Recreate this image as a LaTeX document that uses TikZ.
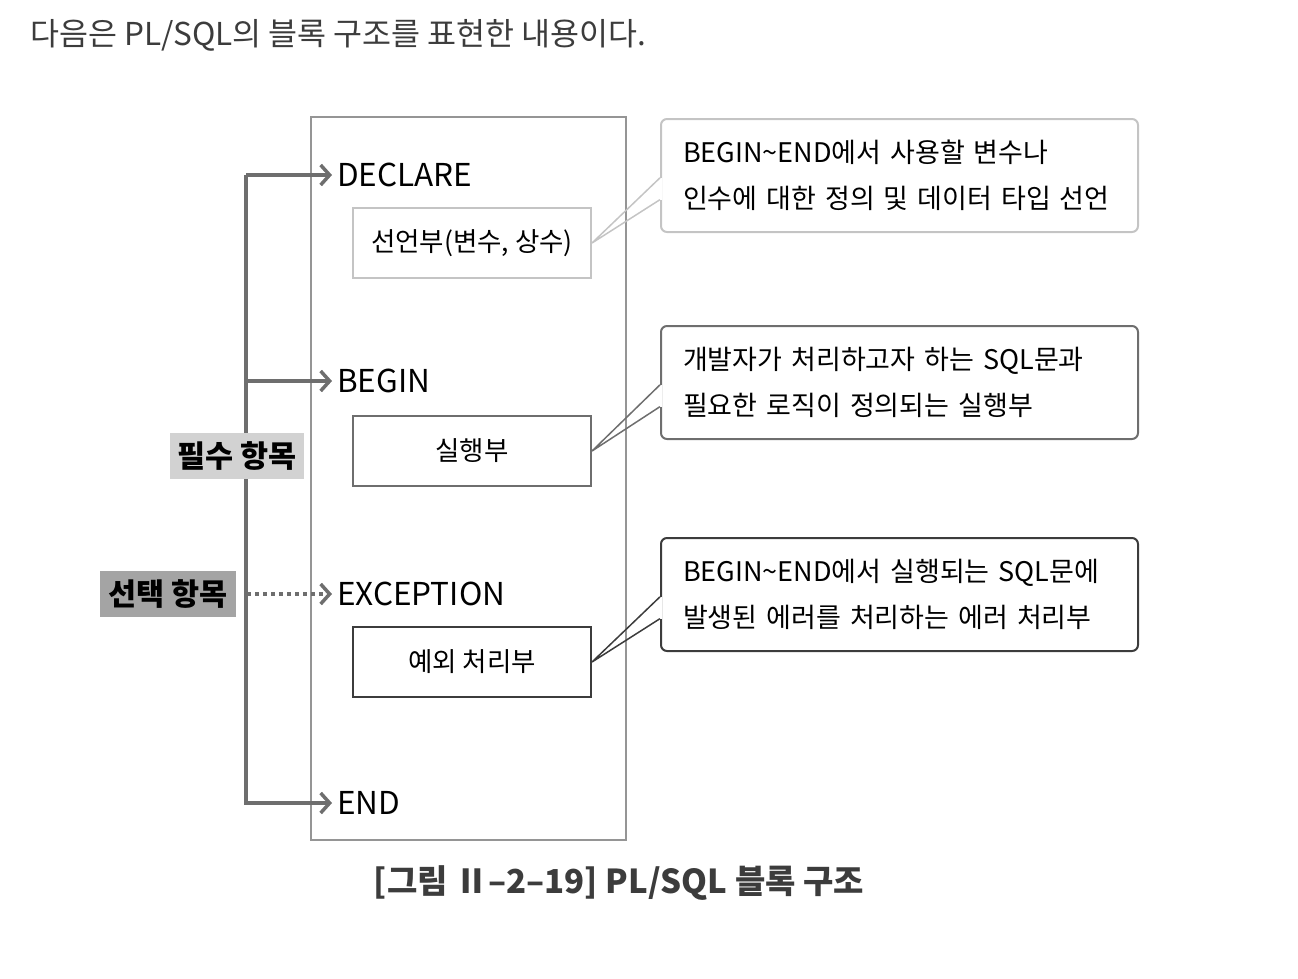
\documentclass[tikz,border=0pt]{standalone}
\usepackage{fontspec}
\setmainfont{Noto Sans CJK KR}
\usetikzlibrary{positioning,arrows.meta,calc}
\definecolor{wire}{HTML}{6E6E6E}
\definecolor{frame}{HTML}{959595}
\definecolor{softg}{HTML}{C4C4C4}
\definecolor{midg}{HTML}{6E6E6E}
\definecolor{darkg}{HTML}{3C3C3C}
\definecolor{tagfill}{HTML}{D2D2D2}
\definecolor{optfill}{HTML}{A4A4A4}
\tikzset{tip/.tip={Straight Barb[length=9pt,width=20pt,line width=3.5pt]}}

\begin{document}
\begin{tikzpicture}[x=1pt, y=-1pt,
  font=\fontsize{27}{46}\selectfont,
  kw/.style={anchor=west, inner sep=0pt, font=\fontsize{31.5}{34}\selectfont},
  part/.style={draw, line width=2pt, minimum width=238pt, minimum height=70pt, inner sep=0pt, font=\fontsize{26.5}{30}\selectfont},
  note/.style={draw, rounded corners=6pt, line width=2pt, anchor=north west, align=left,
    text width=433pt, inner xsep=22pt, inner ysep=0pt, minimum height=113pt},
  tag/.style={inner sep=0pt, minimum height=46pt, minimum width=134pt, font=\bfseries\fontsize{30.5}{32}\selectfont},
  arr/.style={-tip, line width=3.5pt, draw=wire, shorten >=5pt},
  wedge/.style={line width=1.5pt}]
\useasboundingbox (0,0) rectangle (1298,978);
\node[anchor=west, inner sep=0pt, text=darkg, font=\fontsize{31.5}{34}\selectfont] (intro) at (30,35) {다음은 PL/SQL의 블록 구조를 표현한 내용이다.};

% block frame and keywords
\node[draw=frame, line width=2pt, minimum width=315pt, minimum height=723pt, inner sep=0pt] (block) at (468.5,478.5) {};
\node[kw] (declare) at (337,175) {DECLARE};
\node[kw] (begin) at (337,381) {BEGIN};
\node[kw] (exception) at (337,594) {EXCEPTION};
\node[kw] (end) at (337,803) {END};

% sections
\node[part, draw=softg] (decl) at (472,243) {선언부(변수, 상수)};
\node[part, draw=midg] (exec) at (472,451) {실행부};
\node[part, draw=darkg] (exc) at (472,662) {예외 처리부};

% spine
\coordinate (spine) at (246,0);
\draw[arr] (spine |- declare.west) -- (declare.west);
\draw[arr] (spine |- declare.west) |- (end.west);
\draw[arr] (spine |- begin.west) -- (begin.west);
\node[tag, fill=tagfill] (must) at (237,456) {필수 항목};
\node[tag, fill=optfill, minimum width=136pt] (opt) at (168,594) {선택 항목};
\draw[arr, dash pattern=on 4pt off 4pt, shorten <=11pt] (opt.east) -- (exception.west);

% notes
\node[note, draw=softg] (n1) at (660,118) {BEGIN\textasciitilde END에서 사용할 변수나\\인수에 대한 정의 및 데이터 타입 선언};
\node[note, draw=midg] (n2) at (660,325) {개발자가 처리하고자 하는 SQL문과\\필요한 로직이 정의되는 실행부};
\node[note, draw=darkg] (n3) at (660,537) {BEGIN\textasciitilde END에서 실행되는 SQL문에\\발생된 에러를 처리하는 에러 처리부};
\foreach \n/\p/\c in {n1/decl/softg, n2/exec/midg, n3/exc/darkg} {
  \coordinate (\n a) at ($(\n.north west)!0.52!(\n.south west)$);
  \coordinate (\n b) at ($(\n.north west)!0.71!(\n.south west)$);
  \draw[white, line width=3pt] (\n a) -- (\n b);
  \draw[wedge, draw=\c] (\n a) -- (\p.east) -- (\n b);
}

\node[font=\bfseries\fontsize{33}{36}\selectfont, text=darkg] (caption) at (619,883) {[그림 Ⅱ–2–19] PL/SQL 블록 구조};
\end{tikzpicture}
\end{document}
